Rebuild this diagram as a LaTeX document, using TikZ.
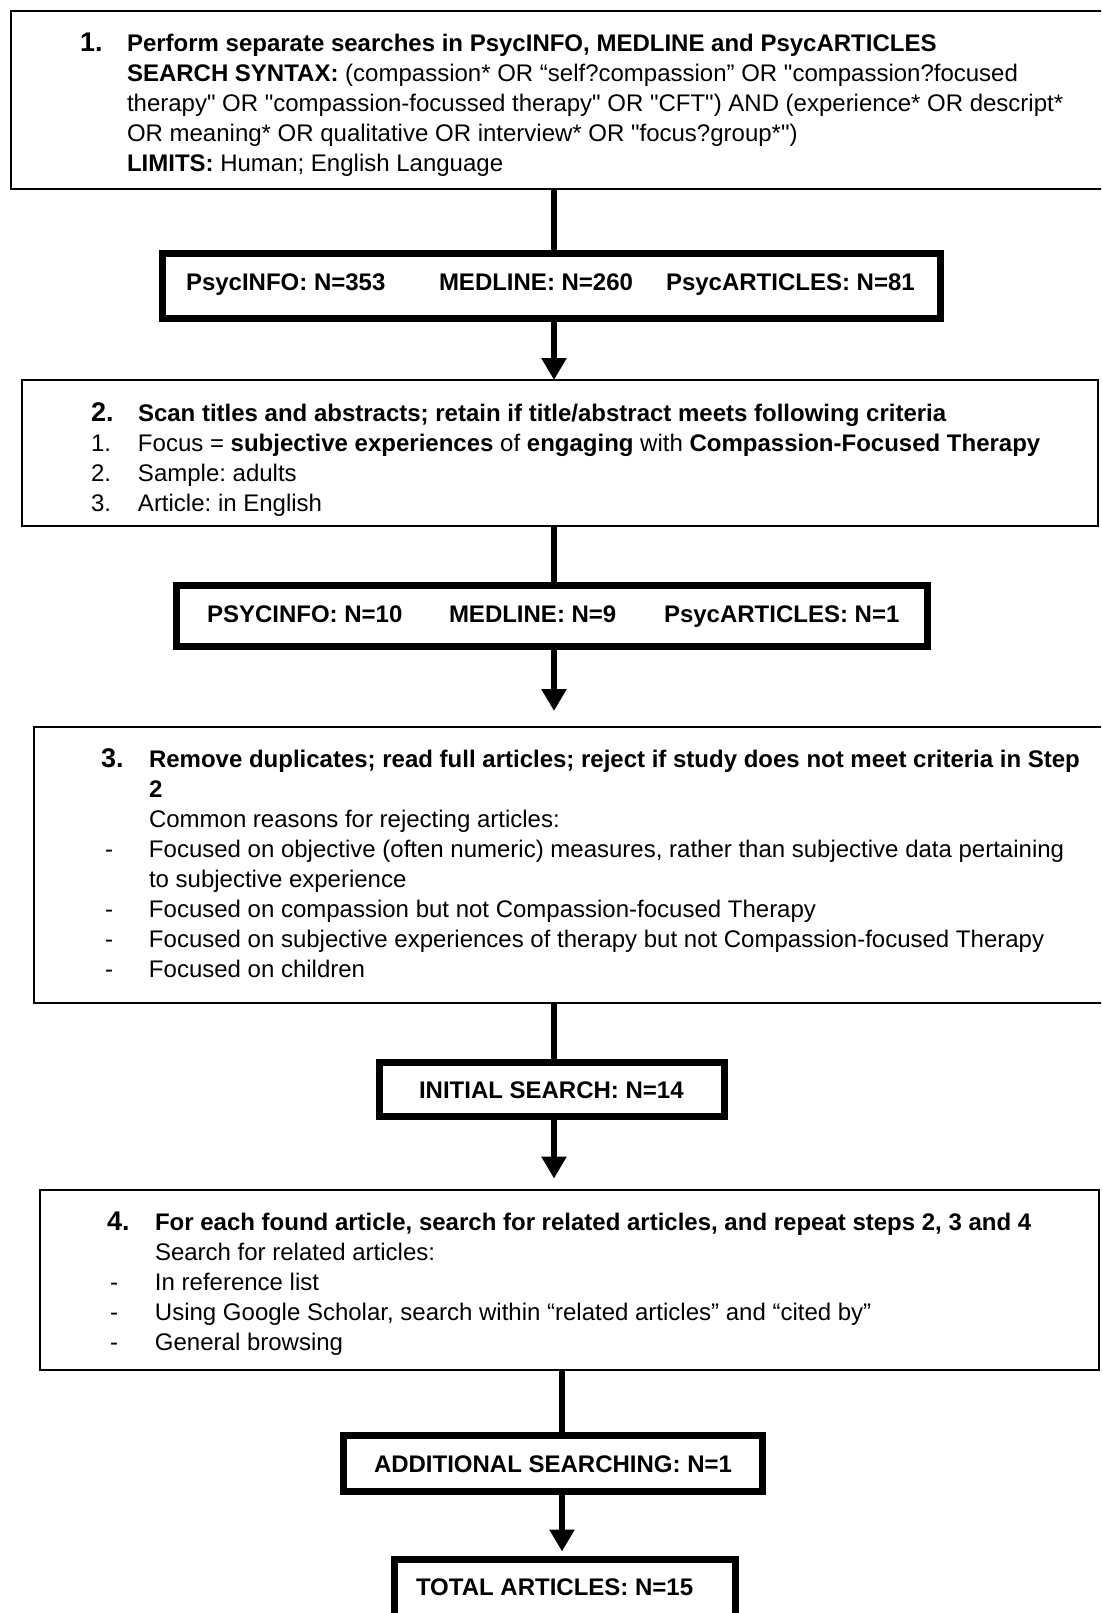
\documentclass[tikz,border=0pt]{standalone}
\usepackage{fontspec}
\setmainfont{Liberation Sans}[Ligatures=TeXOff]
\usetikzlibrary{arrows.meta}
\newcommand\stepnum{\fontsize{27}{30}\selectfont\bfseries}
\frenchspacing
\begin{document}
\frenchspacing
\begin{tikzpicture}[x=1pt,y=-1pt,
  thinbox/.style={draw=black, line width=2pt, inner sep=0pt, outer sep=0pt},
  thickbox/.style={draw=black, line width=7pt, inner sep=0pt, outer sep=0pt},
  conn/.style={line width=6pt, -{Triangle[width=24pt,length=22pt]}},
  plainline/.style={line width=6pt},
  txt/.style={inner sep=0pt, outer sep=0pt, anchor=base west, align=left, font=\fontsize{24}{30}\selectfont\frenchspacing}]
\useasboundingbox (0,0) rectangle (1101,1613);
\fill[white] (0,0) rectangle (1101,1613);
\begin{scope}
\clip (0,0) rectangle (1101,1613);
% boxes
\node[thinbox, minimum width=1098pt, minimum height=178pt] (b1) at (560,100) {};
\node[thickbox, minimum width=778pt, minimum height=65pt] (bA) at (551.5,286) {};
\node[thinbox, minimum width=1076pt, minimum height=146pt] (b2) at (560,453) {};
\node[thickbox, minimum width=751pt, minimum height=61pt] (bB) at (552,616) {};
\node[thinbox, minimum width=1075pt, minimum height=276pt] (b3) at (571.5,865) {};
\node[thickbox, minimum width=345pt, minimum height=54pt] (bC) at (552,1089) {};
\node[thinbox, minimum width=1059pt, minimum height=180pt] (b4) at (569.5,1279.5) {};
\node[thickbox, minimum width=419pt, minimum height=56pt] (bD) at (553,1463.5) {};
\node[thickbox, minimum width=341pt, minimum height=61pt] (bE) at (565,1590) {};

% texts
\node[txt] (t1) at (80,51.5) {\begin{tabular}[t]{@{}p{47pt}@{}l@{}}
{\stepnum 1.} & \textbf{Perform separate searches in PsycINFO, MEDLINE and PsycARTICLES}\\
 & \textbf{SEARCH SYNTAX:} (compassion* OR “self?compassion” OR "compassion?focused\\
 & therapy" OR "compassion-focussed therapy" OR "CFT") AND (experience* OR descript*\\
 & OR meaning* OR qualitative OR interview* OR "focus?group*")\\
 & \textbf{LIMITS:} Human; English Language
\end{tabular}};

\node[txt, font=\fontsize{24}{30}\selectfont\bfseries] (tA1) at (186,290.5) {PsycINFO: N=353};
\node[txt, font=\fontsize{24}{30}\selectfont\bfseries] (tA2) at (439,290.5) {MEDLINE: N=260};
\node[txt, font=\fontsize{24}{30}\selectfont\bfseries] (tA3) at (666,290.5) {PsycARTICLES: N=81};

\node[txt] (t2) at (91,421.5) {\begin{tabular}[t]{@{}p{47pt}@{}l@{}}
{\stepnum 2.} & \textbf{Scan titles and abstracts; retain if title/abstract meets following criteria}\\
1. & Focus = \textbf{subjective experiences} of \textbf{engaging} with \textbf{Compassion-Focused Therapy}\\
2. & Sample: adults\\
3. & Article: in English
\end{tabular}};

\node[txt, font=\fontsize{24}{30}\selectfont\bfseries] (tB1) at (207,622.5) {PSYCINFO: N=10};
\node[txt, font=\fontsize{24}{30}\selectfont\bfseries] (tB2) at (449,622.5) {MEDLINE: N=9};
\node[txt, font=\fontsize{24}{30}\selectfont\bfseries] (tB3) at (664,622.5) {PsycARTICLES: N=1};

\node[txt] (t3) at (101,767.5) {\begin{tabular}[t]{@{}p{48pt}@{}l@{}}
{\stepnum 3.} & \textbf{Remove duplicates; read full articles; reject if study does not meet criteria in Step}\\
 & \textbf{2}\\
 & Common reasons for rejecting articles:\\
\hspace{4pt}- & Focused on objective (often numeric) measures, rather than subjective data pertaining\\
 & to subjective experience\\
\hspace{4pt}- & Focused on compassion but not Compassion-focused Therapy\\
\hspace{4pt}- & Focused on subjective experiences of therapy but not Compassion-focused Therapy\\
\hspace{4pt}- & Focused on children
\end{tabular}};

\node[txt, font=\fontsize{24}{30}\selectfont\bfseries] (tC) at (419,1098.5) {INITIAL SEARCH: N=14};

\node[txt] (t4) at (107,1230.5) {\begin{tabular}[t]{@{}p{48pt}@{}l@{}}
{\stepnum 4.} & \textbf{For each found article, search for related articles, and repeat steps 2, 3 and 4}\\
 & Search for related articles:\\
\hspace{3pt}- & In reference list\\
\hspace{3pt}- & Using Google Scholar, search within “related articles” and “cited by”\\
\hspace{3pt}- & General browsing
\end{tabular}};

\node[txt, font=\fontsize{24}{30}\selectfont\bfseries] (tD) at (374,1472.5) {ADDITIONAL SEARCHING: N=1};
\node[txt, font=\fontsize{24}{30}\selectfont\bfseries] (tE) at (416,1595.5) {TOTAL ARTICLES: N=15};

% connectors
\coordinate (xa) at (554,0);
\coordinate (xb) at (562,0);
\draw[plainline] (b1.south -| xa) -- (bA.north -| xa);
\draw[conn] (bA.south -| xa) -- (b2.north -| xa);
\draw[plainline] (b2.south -| xa) -- (bB.north -| xa);
\draw[conn, shorten >=16pt] (bB.south -| xa) -- (b3.north -| xa);
\draw[plainline] (b3.south -| xa) -- (bC.north -| xa);
\draw[conn, shorten >=11pt] (bC.south -| xa) -- (b4.north -| xa);
\draw[plainline] (b4.south -| xb) -- (bD.north -| xb);
\draw[conn, shorten >=8pt] (bD.south -| xb) -- (bE.north -| xb);
\end{scope}
\end{tikzpicture}
\end{document}
